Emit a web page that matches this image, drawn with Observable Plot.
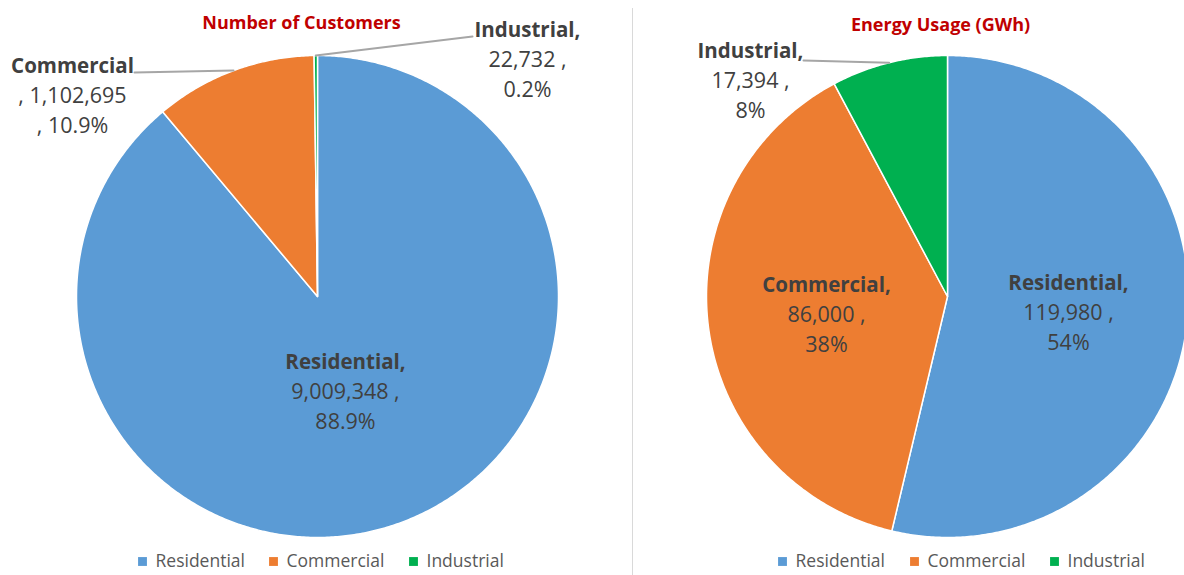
<!DOCTYPE html>
<html><head><meta charset="utf-8">
<script src="https://cdn.jsdelivr.net/npm/d3@7"></script>
<script src="https://cdn.jsdelivr.net/npm/@observablehq/plot@0.6"></script>
<style>
html,body{margin:0;padding:0;background:#fff;}
#chart{width:1184px;height:575px;overflow:hidden;}
</style></head><body><div id="chart"></div>
<script>
// ---- data ----
const categories = ["Residential", "Commercial", "Industrial"];
const colors = ["#5B9BD5", "#ED7D31", "#00B050"];
const customers = [9009348, 1102695, 22732];
const customerPct = ["88.9%", "10.9%", "0.2%"];
const energyGWh = [119980, 86000, 17394];
const energyPct = ["54%", "38%", "8%"];
const chartTitles = ["Number of Customers", "Energy Usage (GWh)"];

// ---- layout ----
const W = 1184, H = 575;
const panels = [
  {title: chartTitles[0], values: customers, pct: customerPct, cx: 317, cy: 296, r: 241, titleX: 301, titleY: 23,
   labels: [
     {x: 345, y: 362, style: "inline"},
     {x: 72, y: 66, style: "prefix", leader: [134, 72]},
     {x: 527, y: 30, style: "inline", leader: [472, 36]}
   ],
   legendX: [142, 273, 413]},
  {title: chartTitles[1], values: energyGWh, pct: energyPct, cx: 947, cy: 296, r: 241, titleX: 940, titleY: 25,
   labels: [
     {x: 1068, y: 283, style: "inline"},
     {x: 826, y: 285, style: "inline"},
     {x: 750, y: 51, style: "inline", leader: [803, 60]}
   ],
   legendX: [782, 914, 1054]}
];
const legendY = 561;
const lineGap = 30;
const fmt = d3.format(",");

// ---- derived geometry ----
const slicePts = [], leaderPts = [], boldLines = [], normLines = [], titles = [], legend = [];
panels.forEach((p, pi) => {
  const arcs = d3.pie().sort(null).value(d => d)(p.values);
  const pt = (a, rr) => ({x: p.cx + rr * Math.sin(a), y: p.cy - rr * Math.cos(a)});
  arcs.forEach((a, i) => {
    const key = pi + "-" + i;
    const cat = categories[i];
    const n = Math.max(2, Math.ceil((a.endAngle - a.startAngle) / (Math.PI / 360)) + 1);
    slicePts.push({key, category: cat, ...pt(0, 0)});
    for (let k = 0; k < n; k++) {
      const ang = a.startAngle + (a.endAngle - a.startAngle) * k / (n - 1);
      slicePts.push({key, category: cat, ...pt(ang, p.r)});
    }
    slicePts.push({key, category: cat, ...pt(0, 0)});
    const L = p.labels[i];
    if (L.leader) {
      const mid = (a.startAngle + a.endAngle) / 2;
      leaderPts.push({key, x: L.leader[0], y: L.leader[1]});
      leaderPts.push({key, ...pt(mid, p.r)});
    }
    let lines;
    if (L.style === "prefix") lines = [cat, ", " + fmt(p.values[i]), ", " + p.pct[i]];
    else lines = [cat + ",", fmt(p.values[i]) + " ,", p.pct[i]];
    boldLines.push({x: L.x, y: L.y, text: lines[0]});
    normLines.push({x: L.x, y: L.y + lineGap, text: lines[1]});
    normLines.push({x: L.x, y: L.y + 2 * lineGap, text: lines[2]});
    legend.push({x: p.legendX[i], y: legendY, category: cat});
  });
  titles.push({x: p.titleX, y: p.titleY, text: p.title});
});

const chart = Plot.plot({
  width: W, height: H, margin: 0,
  x: {domain: [0, W], range: [0, W], axis: null},
  y: {domain: [0, H], range: [0, H], axis: null},
  color: {domain: categories, range: colors},
  style: {fontFamily: "'Open Sans', sans-serif", background: "#fff"},
  marks: [
    Plot.ruleX([632], {y1: 8, y2: H, stroke: "#d9d9d9", strokeWidth: 1}),
    Plot.line(slicePts, {x: "x", y: "y", z: "key", fill: "category", stroke: "white", strokeWidth: 1.5, strokeLinejoin: "round", curve: "linear"}),
    Plot.line(leaderPts, {x: "x", y: "y", z: "key", stroke: "#a6a6a6", strokeWidth: 2}),
    Plot.text(boldLines, {x: "x", y: "y", text: "text", fontSize: 20.5, fontWeight: "bold", fill: "#404040"}),
    Plot.text(normLines, {x: "x", y: "y", text: "text", fontSize: 21.5, fill: "#404040"}),
    Plot.text(titles, {x: "x", y: "y", text: "text", fontSize: 18, fontWeight: "bold", fill: "#C00000"}),
    Plot.dot(legend, {x: "x", y: "y", symbol: "square", r: 5, fill: "category", stroke: null}),
    Plot.text(legend, {x: d => d.x + 13, y: "y", text: "category", textAnchor: "start", fontSize: 17.5, fill: "#595959"})
  ]
});
document.getElementById("chart").appendChild(chart);
</script>
</body></html>
